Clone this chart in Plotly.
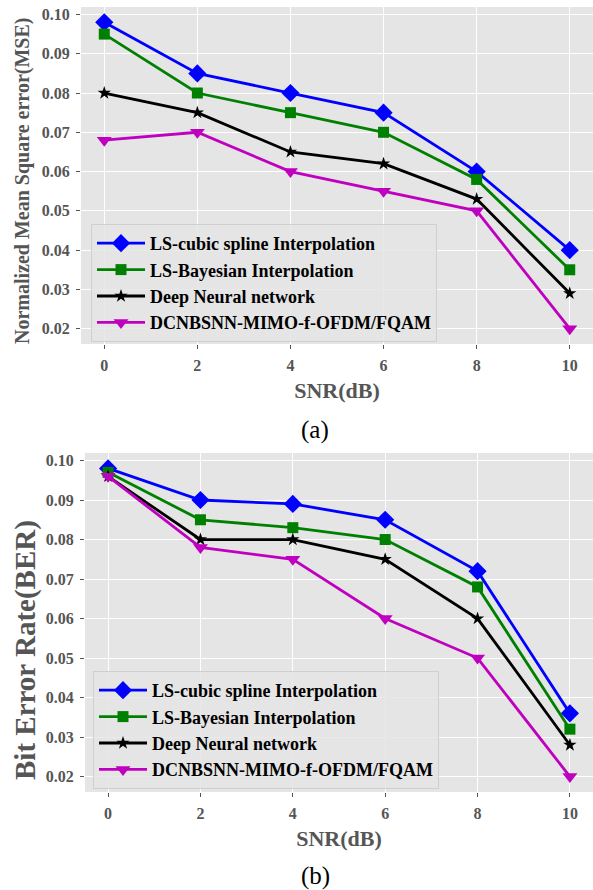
import plotly.graph_objects as go

snr = [0, 2, 4, 6, 8, 10]
series_names = ["LS-cubic spline Interpolation", "LS-Bayesian Interpolation",
                "Deep Neural network", "DCNBSNN-MIMO-f-OFDM/FQAM"]

mse_cubic = [0.098, 0.085, 0.080, 0.075, 0.060, 0.040]
mse_bayes = [0.095, 0.080, 0.075, 0.070, 0.058, 0.035]
mse_dnn = [0.080, 0.075, 0.065, 0.062, 0.053, 0.029]
mse_prop = [0.068, 0.070, 0.060, 0.055, 0.050, 0.020]

ber_cubic = [0.098, 0.090, 0.089, 0.085, 0.072, 0.036]
ber_bayes = [0.097, 0.085, 0.083, 0.080, 0.068, 0.032]
ber_dnn = [0.096, 0.080, 0.080, 0.075, 0.060, 0.028]
ber_prop = [0.096, 0.078, 0.075, 0.060, 0.050, 0.020]

y_ticks = [0.02, 0.03, 0.04, 0.05, 0.06, 0.07, 0.08, 0.09, 0.10]
y_ticktext = ["0.02", "0.03", "0.04", "0.05", "0.06", "0.07", "0.08", "0.09", "0.10"]
x_ticks = [0, 2, 4, 6, 8, 10]

colors = ["#0000ff", "#008000", "#000000", "#bf00bf"]
symbols = ["diamond", "square", "star", "triangle-down"]
sizes = [14, 11, 10, 13]

W, H = 593, 890
FONT = "Liberation Serif"
GRAY = "#555555"

fig = go.Figure()

panels = [
    ([mse_cubic, mse_bayes, mse_dnn, mse_prop], "x", "y", "legend"),
    ([ber_cubic, ber_bayes, ber_dnn, ber_prop], "x2", "y2", "legend2"),
]
for data, xa, ya, lg in panels:
    for i, (name, vals) in enumerate(zip(series_names, data)):
        fig.add_trace(go.Scatter(
            x=snr, y=vals, name=name, mode="lines+markers",
            xaxis=xa, yaxis=ya, legend=lg, legendgroup=f"{lg}{i}",
            line=dict(color=colors[i], width=2.8),
            marker=dict(symbol=symbols[i], size=sizes[i], color=colors[i],
                        line=dict(width=0)),
        ))

def px_x(a, b):
    return [a / W, min(b / W, 1.0)]

def px_y(top, bottom):
    return [(H - bottom) / H, (H - top) / H]

axis_common = dict(
    showgrid=True, gridcolor="white", gridwidth=1.2, zeroline=False,
    showline=False, ticks="outside", ticklen=4, tickcolor=GRAY, tickwidth=1,
    tickfont=dict(family=FONT, size=16, color=GRAY, weight="bold"),
)

def xaxis_cfg(dom, anchor):
    return dict(axis_common, domain=dom, anchor=anchor, range=[-0.5, 10.5],
                tickvals=x_ticks, ticklabelstandoff=3,
                title=dict(text="SNR(dB)", standoff=9,
                           font=dict(family=FONT, size=22, color=GRAY, weight="bold")))

def yaxis_cfg(dom, anchor):
    return dict(axis_common, domain=dom, anchor=anchor, range=[0.0161, 0.1019],
                tickvals=y_ticks, ticktext=y_ticktext, ticklabelstandoff=3)

legend_common = dict(
    bgcolor="rgba(229,229,229,0.85)", bordercolor="#cfcfcf", borderwidth=1,
    font=dict(family=FONT, size=18, color="black", weight="bold"),
    xanchor="left", yanchor="top", tracegroupgap=0, itemsizing="trace",
    itemwidth=48,
)

def ytitle(text, xc, yc, size):
    return dict(text=text, x=xc / W, y=(H - yc) / H, xref="paper", yref="paper",
                xanchor="center", yanchor="middle", textangle=-90, showarrow=False,
                font=dict(family=FONT, size=size, color=GRAY, weight="bold"))

fig.update_layout(
    width=W, height=H, margin=dict(l=0, r=0, t=0, b=0),
    paper_bgcolor="white", plot_bgcolor="#e5e5e5",
    xaxis=xaxis_cfg(px_x(81, 593), "y"),
    yaxis=yaxis_cfg(px_y(7, 344), "x"),
    xaxis2=xaxis_cfg(px_x(85, 593), "y2"),
    yaxis2=yaxis_cfg(px_y(453, 792), "x2"),
    legend=dict(legend_common, x=91 / W, y=(H - 224) / H),
    legend2=dict(legend_common, x=93 / W, y=(H - 671) / H),
    annotations=[
        ytitle("Normalized Mean Square error(MSE)", 22, 181, 20),
        ytitle("Bit Error Rate(BER)", 25, 650, 29),
        dict(text="(a)", x=315 / W, y=(H - 430) / H, xref="paper", yref="paper",
             xanchor="center", yanchor="middle",
             showarrow=False, font=dict(family=FONT, size=25, color="black")),
        dict(text="(b)", x=315 / W, y=(H - 876) / H, xref="paper", yref="paper",
             xanchor="center", yanchor="middle",
             showarrow=False, font=dict(family=FONT, size=25, color="black")),
    ],
    showlegend=True,
)

fig.write_html("out.html")
